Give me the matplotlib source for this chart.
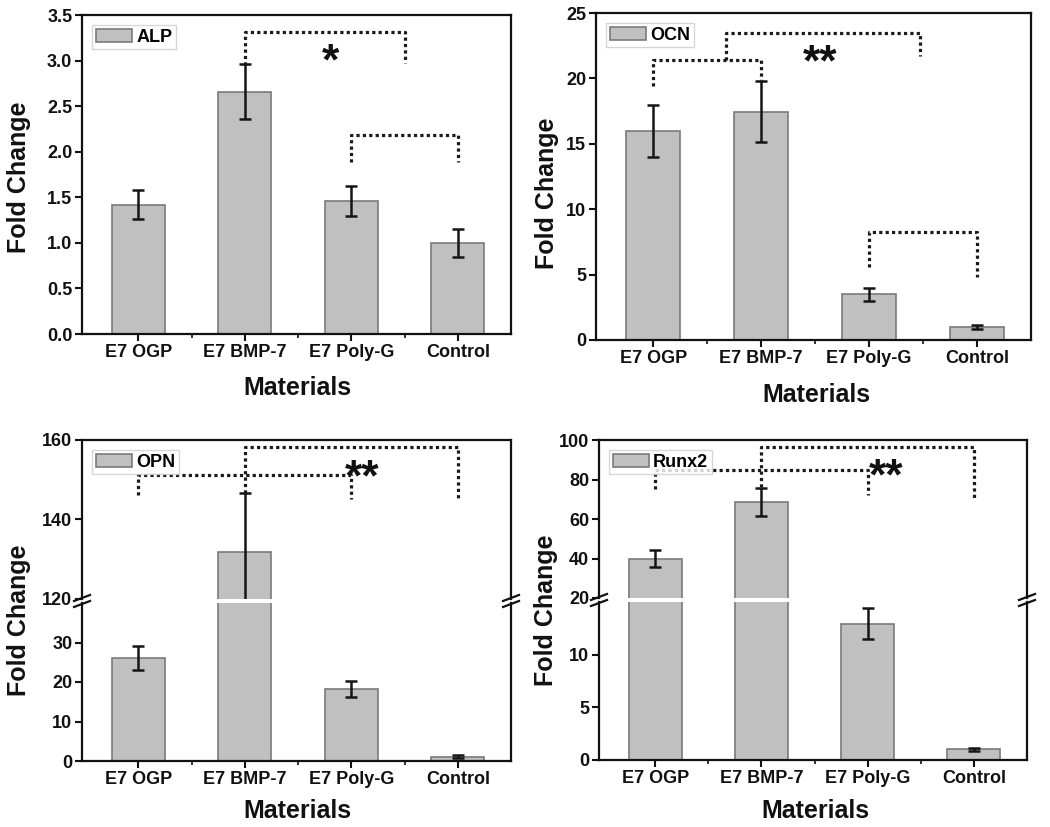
import matplotlib
matplotlib.use("Agg")
import matplotlib.pyplot as plt
from matplotlib.patches import Patch
from matplotlib.lines import Line2D
import numpy as np

# ---------------- data ----------------
categories = ["E7 OGP", "E7 BMP-7", "E7 Poly-G", "Control"]

alp_mean = [1.42, 2.66, 1.46, 1.00]
alp_err = [0.155, 0.30, 0.16, 0.15]

ocn_mean = [16.0, 17.45, 3.5, 1.0]
ocn_err = [2.0, 2.35, 0.5, 0.15]

opn_mean = [26.0, 131.7, 18.2, 1.1]
opn_err = [3.0, 15.0, 2.0, 0.3]

runx2_mean = [40.0, 68.7, 12.95, 1.0]
runx2_err = [4.5, 7.2, 1.5, 0.1]

# significance brackets: (x_left, x_right, y_top, y_left_end, y_right_end)
alp_brackets = [(2, 3.5, 3.31, 2.95, 2.97), (3, 4, 2.18, 1.89, 1.89)]
alp_star = (2.80, 3.13, "*")
ocn_brackets = [(1, 2, 21.4, 19.4, 19.9), (1.67, 3.47, 23.5, 21.4, 21.7),
                (3, 4, 8.24, 5.6, 4.85)]
ocn_star = (2.55, 22.2, "**")
opn_brackets = [(1, 3, 151.25, 146.25, 145.25), (2, 4, 158.2, 146.7, 145.3)]
opn_star = (3.10, 153.75, "**")
runx2_brackets = [(1, 3, 84.75, 75.0, 72.1), (2, 4, 96.6, 76.0, 70.4)]
runx2_star = (3.17, 87.8, "**")

# ---------------- style ----------------
W, H = 1050, 827
FONT = "Liberation Sans"
plt.rcParams["font.family"] = [FONT, "DejaVu Sans"]
plt.rcParams["font.weight"] = "bold"

BAR_FC = "#c0c0c0"
BAR_EC = "#7a7a7a"
ERR_C = "#151515"
BR_C = "#1a1a1a"
TICK_FS = 13
LAB_FS = 18
STAR_FS = 32

fig = plt.figure(figsize=(W / 100, H / 100), dpi=100)


def rect(l, t, r, b):
    return [l / W, 1 - b / H, (r - l) / W, (b - t) / H]


x = np.arange(1, len(categories) + 1)


def style_axes(ax, show_x=True):
    for s in ax.spines.values():
        s.set_linewidth(1.6)
        s.set_color("#111111")
    ax.tick_params(axis="both", which="major", direction="out", length=5,
                   width=1.5, labelsize=TICK_FS, pad=2, colors="#111111")
    ax.tick_params(axis="x", which="minor", direction="out", length=3,
                   width=1.2, colors="#111111")
    ax.set_xlim(0.47, 4.5)
    if show_x:
        ax.set_xticks(x)
        ax.set_xticklabels(categories, fontweight="bold")
        ax.set_xticks([1.5, 2.5, 3.5], minor=True)
    else:
        ax.set_xticks([])
    for lab in ax.get_yticklabels():
        lab.set_fontweight("bold")


def draw_bars(ax, mean, err):
    ax.bar(x, mean, width=0.5, color=BAR_FC, edgecolor=BAR_EC, linewidth=1.2,
           zorder=2)
    ax.errorbar(x, mean, yerr=err, fmt="none", ecolor=ERR_C, elinewidth=1.8,
                capsize=4, capthick=1.8, zorder=3)


def draw_brackets(ax, brackets, star):
    for (x1, x2, yt, yl, yr) in brackets:
        ax.plot([x1, x1, x2, x2], [yl, yt, yt, yr], color=BR_C, lw=2.3,
                linestyle=(0, (1, 1)), dash_capstyle="butt", zorder=4,
                clip_on=False)
    sx, sy, s = star
    ax.annotate(s, xy=(sx, sy), xytext=(0, -0.58 * STAR_FS),
                textcoords="offset points", ha="center", va="baseline",
                fontsize=STAR_FS, fontweight="bold", color="#111111",
                zorder=5)


def add_legend(ax, label):
    h = Patch(facecolor=BAR_FC, edgecolor=BAR_EC, linewidth=1.2)
    leg = ax.legend([h], [label], loc="upper left", frameon=True,
                    fancybox=False, prop={"family": FONT, "weight": "bold",
                                          "size": TICK_FS},
                    handlelength=2.0, handleheight=0.75, handletextpad=0.25,
                    borderpad=0.2, borderaxespad=0.55)
    leg.get_frame().set_edgecolor("#cccccc")
    leg.get_frame().set_linewidth(1.0)


def fig_text(px, py, s, **kw):
    fig.text(px / W, 1 - py / H, s, fontsize=LAB_FS, fontweight="bold",
             color="#111111", **kw)


def break_marks(xpx_list, ypx_list):
    for xp in xpx_list:
        for yp in ypx_list:
            fig.add_artist(Line2D([(xp - 8) / W, (xp + 8) / W],
                                  [1 - (yp + 3) / H, 1 - (yp - 3) / H],
                                  transform=fig.transFigure, color="#111111",
                                  lw=1.6))


# ---------------- Panel 1: ALP ----------------
ax1 = fig.add_axes(rect(82, 15, 511, 334))
draw_bars(ax1, alp_mean, alp_err)
ax1.set_ylim(0, 3.5)
ax1.set_yticks(np.arange(0, 3.51, 0.5))
ax1.set_yticklabels([f"{v:.1f}" for v in np.arange(0, 3.51, 0.5)])
style_axes(ax1)
draw_brackets(ax1, alp_brackets, alp_star)
add_legend(ax1, "ALP")
fig_text(19, 177, "Fold Change", rotation=90, ha="center", va="center")
fig_text(297, 395, "Materials", ha="center", va="baseline")

# ---------------- Panel 2: OCN ----------------
ax2 = fig.add_axes(rect(596, 13, 1031, 340))
draw_bars(ax2, ocn_mean, ocn_err)
ax2.set_ylim(0, 25)
ax2.set_yticks([0, 5, 10, 15, 20, 25])
style_axes(ax2)
draw_brackets(ax2, ocn_brackets, ocn_star)
add_legend(ax2, "OCN")
fig_text(547, 193, "Fold Change", rotation=90, ha="center", va="center")
fig_text(816, 402, "Materials", ha="center", va="baseline")

# ---------------- Panel 3: OPN (broken axis) ----------------
ax3t = fig.add_axes(rect(82, 440, 511, 599))
ax3b = fig.add_axes(rect(82, 603, 511, 761))
for a in (ax3t, ax3b):
    draw_bars(a, opn_mean, opn_err)
ax3t.set_ylim(120, 160)
ax3t.set_yticks([120, 140, 160])
ax3b.set_ylim(0, 40)
ax3b.set_yticks([0, 10, 20, 30])
style_axes(ax3t, show_x=False)
style_axes(ax3b)
ax3t.spines["bottom"].set_visible(False)
ax3b.spines["top"].set_visible(False)
draw_brackets(ax3t, opn_brackets, opn_star)
add_legend(ax3t, "OPN")
break_marks([82, 511], [598, 604])
fig_text(19, 620, "Fold Change", rotation=90, ha="center", va="center")
fig_text(297, 818, "Materials", ha="center", va="baseline")

# ---------------- Panel 4: Runx2 (broken axis) ----------------
ax4t = fig.add_axes(rect(599, 440, 1027, 598))
ax4b = fig.add_axes(rect(599, 602, 1027, 760))
for a in (ax4t, ax4b):
    draw_bars(a, runx2_mean, runx2_err)
ax4t.set_ylim(20, 100)
ax4t.set_yticks([20, 40, 60, 80, 100])
ax4b.set_ylim(0, 15)
ax4b.set_yticks([0, 5, 10])
style_axes(ax4t, show_x=False)
style_axes(ax4b)
ax4t.spines["bottom"].set_visible(False)
ax4b.spines["top"].set_visible(False)
draw_brackets(ax4t, runx2_brackets, runx2_star)
add_legend(ax4t, "Runx2")
break_marks([599, 1027], [597, 603])
fig_text(546, 610, "Fold Change", rotation=90, ha="center", va="center")
fig_text(815, 818, "Materials", ha="center", va="baseline")

fig.savefig("out.png", dpi=100, facecolor="white")
